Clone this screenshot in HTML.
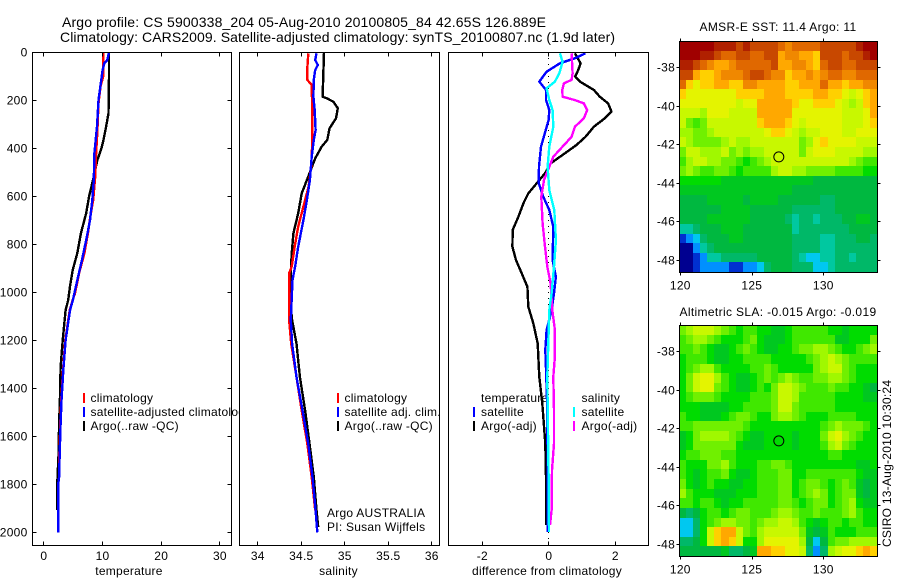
<!DOCTYPE html>
<html lang="en">
<head>
<meta charset="utf-8">
<title>Argo profile chart</title>
<style>
html,body{margin:0;padding:0;background:#fff;}
svg{display:block;}
text{font-family:"Liberation Sans",sans-serif;font-size:12px;fill:#000;letter-spacing:0.25px;}
</style>
</head>
<body>
<svg id="chart" xmlns="http://www.w3.org/2000/svg" width="900" height="580" viewBox="0 0 900 580">
  <text x="62" y="27" style="font-size:14px;letter-spacing:0" textLength="484">Argo profile: CS 5900338_204 05-Aug-2010 20100805_84 42.65S 126.889E</text>
  <text x="60" y="42" style="font-size:14px;letter-spacing:0" textLength="555">Climatology: CARS2009. Satellite-adjusted climatology: synTS_20100807.nc (1.9d later)</text>
</svg>
<script>
// ---------- profile data ----------
const tempTicks = [0, 10, 20, 30];
const salTicks = [34, 34.5, 35, 35.5, 36];
const salTickLabels = ['34', '34.5', '35', '35.5', '36'];
const diffTicks = [-2, 0, 2];
const depthTicks = [0, 200, 400, 600, 800, 1000, 1200, 1400, 1600, 1800, 2000];
const lonTicks = [120, 125, 130];
const latTicks = [-38, -40, -42, -44, -46, -48];

const tempArgoDepth = [0,100,254,310,365,400,450,518,600,670,754,837,907,976,1032,1075,1200,1311,1436,1547,1672,1783,1908];
const tempArgo = [11.2,11.2,11.1,10.7,10.25,9.9,9.2,8.6,7.8,7.3,6.4,5.8,5.0,4.55,4.25,3.8,3.3,2.95,2.85,2.7,2.6,2.4,2.4];
const tempClimDepth = [0,70,100,143,212,337,420,518,615,685,754,837,920,1004,1032,1075,1200,1325,1450,1547,1672,1770,1797,2000];
const tempClim = [10.2,10.2,10.2,9.75,9.4,9.2,9.0,8.85,8.5,8.0,7.6,7.0,6.1,5.4,5.0,4.5,3.75,3.35,3.05,2.9,2.75,2.7,2.55,2.55];
const tempSatDepth = [0,32,46,74,129,199,310,420,532,615,700,782,865,949,1032,1075,1200,1325,1450,1547,1672,1770,1797,2000];
const tempSat = [11.2,10.9,10.4,10.1,9.8,9.4,9.15,8.7,8.6,8.35,7.95,7.3,6.6,5.8,5.05,4.55,3.8,3.4,3.1,2.95,2.8,2.7,2.55,2.55];

const salArgoDepth = [0,185,192,206,233,275,317,365,393,442,504,560,588,671,754,838,921,1060,1115,1214,1353,1492,1630,1770,1908,1978];
const salArgo = [34.767,34.75,34.8,34.875,34.925,34.905,34.83,34.805,34.74,34.665,34.6,34.54,34.51,34.47,34.415,34.395,34.385,34.385,34.4,34.45,34.49,34.55,34.6,34.65,34.68,34.7];
const salClimDepth = [4,67,115,136,213,393,476,560,643,726,810,893,921,1115,1214,1353,1492,1630,1770,1908];
const salClim = [34.586,34.575,34.575,34.625,34.63,34.63,34.62,34.59,34.53,34.47,34.43,34.395,34.365,34.365,34.39,34.45,34.51,34.575,34.625,34.665];
const salSatDepth = [4,32,53,74,115,185,241,324,365,435,532,615,699,810,893,949,1115,1214,1353,1492,1630,1770,1908,2000];
const salSat = [34.68,34.665,34.695,34.665,34.65,34.645,34.66,34.67,34.65,34.625,34.605,34.57,34.53,34.47,34.435,34.405,34.385,34.4,34.45,34.52,34.585,34.635,34.67,34.69];

const diffTempArgoDepth = [4,46,74,101,122,157,185,213,247,275,310,352,386,421,463,504,546,588,629,685,740,810,866,921,977,1060,1129,1213,1352,1463,1630,1769,1970];
const diffTempArgo = [0.8,0.97,0.9,0.81,0.95,1.37,1.55,1.8,1.9,1.7,1.37,1.12,0.85,0.5,0.07,-0.1,-0.35,-0.6,-0.75,-0.9,-1.07,-1.08,-0.97,-0.8,-0.63,-0.6,-0.45,-0.32,-0.27,-0.18,-0.09,-0.07,-0.06];
const diffTempSatDepth = [4,25,46,81,122,157,199,241,282,393,477,546,602,657,727,866,935,1004,1074,1157,1240,1352,1491,1769,1998];
const diffTempSat = [1.12,0.8,0.35,-0.05,-0.27,-0.07,-0.07,0.03,0.01,-0.22,-0.28,-0.29,-0.15,0.03,0.15,0.13,0.23,0.17,0.1,-0.05,-0.09,-0.06,-0.03,-0.02,-0.02];
const diffSalArgoDepth = [4,88,115,129,157,185,199,213,241,275,310,352,393,435,477,532,602,713,810,893,963,1074,1157,1268,1352,1491,1630,1741,1907,1970];
const diffSalArgo = [0.7,0.73,0.7,0.47,0.42,0.43,0.8,1.07,1.17,1.07,0.8,0.7,0.43,0.15,0.03,-0.13,-0.21,-0.17,-0.1,-0.03,0.07,0.12,0.2,0.2,0.15,0.17,0.17,0.11,0.1,0.05];
const diffSalSatDepth = [4,39,88,122,150,199,241,310,393,477,574,657,782,893,1004,1074,1352,1769,1998];
const diffSalSat = [0.35,0.43,0.33,0.2,-0.05,0.03,0.13,0.15,0.03,-0.02,0.03,0.18,0.23,0.17,0.1,0.03,-0.03,0.01,0.02];

// ---------- map data (colour-level per coarse cell) ----------
const sstRows = [
[20,20,20,20,20,19,19,19,18,19,18,18,18,18,17,16,17,17,17,17,18,18,18,18,18,19,20,20],
[20,20,20,19,19,18,17,17,18,18,17,17,18,18,15,16,16,15,15,14,18,18,18,17,18,18,19,20],
[19,19,18,17,16,15,15,16,17,17,17,17,17,18,15,15,16,16,15,14,17,18,18,17,17,18,18,18],
[18,18,15,14,14,15,16,16,16,17,18,18,17,16,16,14,15,15,16,15,16,17,17,16,16,17,17,17],
[17,14,13,14,14,15,15,14,14,16,16,15,15,15,15,14,14,15,15,15,17,15,15,14,15,15,16,16],
[14,13,13,13,13,13,13,13,14,14,14,14,15,15,15,14,14,14,14,15,15,14,14,13,12,13,14,15],
[13,13,13,13,13,13,13,13,12,13,13,15,15,15,15,15,14,13,13,14,14,14,13,12,11,12,14,15],
[12,12,12,11,13,13,13,12,12,12,12,15,15,15,15,15,13,13,13,13,13,13,13,12,12,12,13,15],
[12,10,9,10,12,12,12,12,12,12,12,14,15,15,15,14,13,12,13,13,13,13,13,12,12,12,13,14],
[11,11,10,10,11,12,12,12,12,12,12,12,13,14,14,13,12,11,12,12,13,13,13,12,12,13,13,13],
[12,11,10,10,10,10,11,12,11,11,12,12,12,12,12,12,12,10,11,13,14,13,13,13,13,12,12,12],
[10,12,12,11,11,11,12,10,11,10,11,11,12,12,12,12,12,10,12,13,13,13,12,12,12,12,11,11],
[9,11,12,12,11,11,10,10,9,8,9,10,11,12,12,12,12,12,12,12,12,12,12,12,11,10,9,9],
[10,11,10,9,9,10,10,9,8,9,9,9,9,11,12,12,11,11,10,10,10,10,9,9,9,9,8,8],
[8,8,8,8,8,8,7,7,7,7,7,7,7,7,7,7,7,7,7,6,6,6,6,6,6,6,6,6],
[7,7,7,7,7,7,7,7,7,7,7,7,7,7,7,7,6,6,6,6,6,6,6,6,6,6,6,6],
[6,6,6,6,7,7,7,7,7,6,7,7,7,7,6,6,6,6,6,6,5,5,6,6,6,6,6,6],
[6,6,6,6,6,6,7,7,7,7,6,6,6,6,6,6,5,5,5,5,5,5,6,6,6,6,6,6],
[6,6,6,6,7,7,7,7,7,7,6,6,6,6,6,5,4,5,5,4,5,5,5,6,6,7,7,6],
[4,4,5,6,6,6,7,7,7,6,6,6,6,6,6,6,4,5,5,5,5,5,5,5,6,6,6,6],
[1,2,3,5,6,6,6,7,7,6,6,6,6,6,6,6,5,5,5,5,4,4,5,5,5,6,6,5],
[0,0,2,4,5,6,6,6,6,6,6,6,6,6,6,6,5,5,5,5,4,4,5,5,5,5,5,5],
[0,0,1,2,4,4,5,5,5,5,5,6,6,6,6,6,5,4,3,3,4,4,5,5,4,5,5,5],
[0,0,1,2,2,2,2,1,1,2,2,3,5,6,6,6,5,5,5,3,3,4,5,5,5,5,5,5]
];
const slaRows = [
[10,11,12,12,12,11,10,9,8,9,9,8,8,7,7,8,9,9,9,9,9,8,8,7,8,8,8,8],
[9,10,11,11,10,9,8,8,8,9,10,8,7,7,7,8,9,9,9,9,9,9,7,7,8,8,8,10],
[9,9,10,9,8,7,7,8,9,10,9,8,7,7,8,8,9,10,10,11,11,10,9,8,8,9,10,11],
[8,9,9,9,8,7,7,8,8,9,9,9,9,8,8,8,8,8,9,10,11,12,11,10,9,9,9,9],
[8,9,10,11,11,9,8,8,8,8,9,9,10,9,8,8,8,8,8,10,11,12,12,10,9,8,8,8],
[8,10,12,13,13,11,9,8,7,7,8,9,10,9,10,11,10,9,9,10,10,11,11,10,9,8,8,8],
[8,10,12,13,13,10,9,8,7,7,8,9,8,10,12,12,11,10,9,9,9,10,9,9,8,8,7,6],
[8,9,10,10,10,9,8,8,8,8,9,9,9,10,12,12,11,9,9,9,9,9,8,8,8,8,7,7],
[8,8,8,7,7,7,7,8,8,9,9,9,9,10,12,12,10,9,9,9,9,9,8,8,8,8,8,8],
[9,8,8,7,7,7,8,9,10,10,9,8,8,10,11,11,10,9,8,8,8,9,9,9,9,8,8,8],
[9,9,10,10,10,10,10,10,10,9,8,8,8,8,8,8,8,8,8,8,9,10,11,10,10,10,9,8],
[7,8,10,11,11,11,11,10,9,8,7,7,8,8,8,8,7,8,8,8,10,12,13,11,10,9,8,8],
[7,8,10,10,10,10,10,10,8,7,7,7,8,8,8,8,7,8,8,8,9,11,12,10,9,8,8,8],
[8,9,9,10,10,10,9,9,8,8,8,8,8,8,8,8,8,8,8,8,8,9,9,8,8,8,8,8],
[9,8,8,8,10,10,11,9,8,8,8,9,9,10,10,9,8,8,8,8,8,8,8,8,8,7,7,8],
[9,8,7,8,9,9,10,8,7,7,8,9,9,9,10,10,8,8,9,9,9,9,9,9,9,8,7,7],
[10,8,7,8,9,8,8,7,7,8,8,9,9,9,10,10,8,9,10,10,9,8,9,10,9,7,6,7],
[11,9,8,8,8,7,7,7,8,8,8,9,9,9,10,10,8,9,10,11,10,8,9,10,10,7,6,7],
[9,9,8,9,9,8,7,8,8,9,9,9,9,9,10,10,9,8,9,10,10,8,9,10,11,8,7,7],
[6,5,6,8,9,9,8,9,10,10,9,9,9,10,11,11,10,9,9,10,9,9,9,10,11,9,8,8],
[3,3,5,8,9,10,11,11,10,10,9,10,11,11,12,12,11,9,8,7,8,9,9,8,9,9,8,8],
[3,3,5,8,12,14,15,15,12,10,9,11,12,12,12,12,12,10,7,6,7,9,8,8,8,9,9,9],
[5,5,6,8,12,14,15,14,12,8,8,11,13,13,13,13,13,11,6,3,6,9,10,10,11,11,11,11],
[6,6,6,6,6,6,7,5,5,6,7,15,15,14,14,13,13,12,5,2,5,11,12,13,13,14,15,14]
];
const argoLon = 126.889;
const argoLat = -42.65;

// ---------- drawing ----------
const svg = document.getElementById('chart');
const NS = 'http://www.w3.org/2000/svg';
const levelColours = ['#000090','#0030d0','#0090ff','#00c8f0','#00c8a0','#00b868','#00b840','#00c820','#00dc00','#40e800','#70f000','#a0f800','#c8f800','#e4f400','#ffd000','#ffa800','#f08800','#e06800','#c84800','#b02000','#a00000'];

function make(tag, attrs, parent) {
  const el = document.createElementNS(NS, tag);
  for (const k in attrs) el.setAttribute(k, attrs[k]);
  (parent || svg).appendChild(el);
  return el;
}
function label(str, x, y, anchor, name) {
  const t = make('text', {x: x, y: y, 'text-anchor': anchor || 'start'});
  t.textContent = str;
  
  
  return t;
}
const depthY = p => 52.3 + 0.24 * p;
const tempX = v => 43.3 + 5.87 * v;
const salX = v => 257.3 + 87 * (v - 34);
const diffX = v => 548.3 + 33.25 * v;

function panelBackground(x0, x1, name) {
  const r = make('rect', {x: x0, y: 52, width: x1 - x0, height: 493, fill: '#fff'});
  
  
}
function frame(x0, y0, x1, y1, name) {
  const r = make('rect', {x: x0 + 0.5, y: y0 + 0.5, width: x1 - x0, height: y1 - y0, fill: 'none', stroke: '#000', 'stroke-width': 1, 'shape-rendering': 'crispEdges'});
  
  
}
function tick(x1, y1, x2, y2, name) {
  const l = make('line', {x1: Math.round(x1) + 0.5, y1: Math.round(y1) + 0.5, x2: Math.round(x2) + 0.5, y2: Math.round(y2) + 0.5, stroke: '#000', 'stroke-width': 1, 'shape-rendering': 'crispEdges'});
  
  
}
function series(depths, values, xFn, colour, name) {
  const pts = depths.map((p, i) => xFn(values[i]).toFixed(1) + ',' + depthY(p).toFixed(1)).join(' ');
  const l = make('polyline', {points: pts, fill: 'none', stroke: colour, 'stroke-width': 2.4, 'stroke-linejoin': 'round', 'shape-rendering': 'crispEdges'});
  
  
}
function swatch(x, y, colour, name) {
  const r = make('rect', {x: x, y: y, width: 2, height: 10, fill: colour});
  
  
}
function xAxis(ticks, labels, xFn, x0, x1, title, titleX, prefix) {
  ticks.forEach((t, i) => {
    const x = xFn(t);
    tick(x, 545, x, 541, prefix + '-tick-bottom');
    tick(x, 52, x, 56, prefix + '-tick-top');
    label(labels[i], x + 0.5, 560, 'middle', prefix + '-tick-label');
  });
  label(title, titleX, 575, 'middle', prefix + '-axis-title');
}

// --- panel 1 (temperature)
panelBackground(32, 231, 'temperature-panel');
label('climatology', 90.5, 402, 'start', 'temp-legend-climatology');
label('satellite-adjusted climatology', 90.5, 416, 'start', 'temp-legend-satellite');
label('Argo(..raw -QC)', 90.5, 430, 'start', 'temp-legend-argo');
swatch(83, 393, '#f00', 'temp-legend-swatch-climatology');
swatch(83, 407, '#00f', 'temp-legend-swatch-satellite');
swatch(83, 421, '#000', 'temp-legend-swatch-argo');
series(tempArgoDepth, tempArgo, tempX, '#000', 'temperature-argo-line');
series(tempClimDepth, tempClim, tempX, '#f00', 'temperature-climatology-line');
series(tempSatDepth, tempSat, tempX, '#00f', 'temperature-satellite-line');
frame(32, 52, 231, 545, 'temperature-frame');
xAxis(tempTicks, tempTicks.map(String), tempX, 32, 231, 'temperature', 129, 'temperature');
depthTicks.forEach(d => {
  const y = depthY(d);
  tick(32, y, 36, y, 'depth-tick-left');
  tick(231, y, 227, y, 'depth-tick-right');
  label(String(d), 27.5, Math.round(y) + 4.5, 'end', 'depth-tick-label');
});

// --- panel 2 (salinity)
panelBackground(239, 439, 'salinity-panel');
label('climatology', 344.5, 402, 'start', 'sal-legend-climatology');
label('satellite adj. clim.', 344.5, 416, 'start', 'sal-legend-satellite');
label('Argo(..raw -QC)', 344.5, 430, 'start', 'sal-legend-argo');
swatch(337, 393, '#f00', 'sal-legend-swatch-climatology');
swatch(337, 407, '#00f', 'sal-legend-swatch-satellite');
swatch(337, 421, '#000', 'sal-legend-swatch-argo');
label('Argo AUSTRALIA', 327, 517, 'start', 'argo-australia-note');
label('PI: Susan Wijffels', 327, 531, 'start', 'pi-note');
series(salArgoDepth, salArgo, salX, '#000', 'salinity-argo-line');
series(salClimDepth, salClim, salX, '#f00', 'salinity-climatology-line');
series(salSatDepth, salSat, salX, '#00f', 'salinity-satellite-line');
frame(239, 52, 439, 545, 'salinity-frame');
xAxis(salTicks, salTickLabels, salX, 239, 439, 'salinity', 338.5, 'salinity');

// --- panel 3 (difference)
panelBackground(448, 648, 'difference-panel');
label('temperature', 481, 402, 'start', 'diff-legend-temperature-heading');
label('satellite', 481, 416, 'start', 'diff-legend-temp-satellite');
label('Argo(-adj)', 481, 430, 'start', 'diff-legend-temp-argo');
label('salinity', 581.5, 402, 'start', 'diff-legend-salinity-heading');
label('satellite', 581.5, 416, 'start', 'diff-legend-sal-satellite');
label('Argo(-adj)', 581.5, 430, 'start', 'diff-legend-sal-argo');
swatch(473, 407, '#00f', 'diff-legend-swatch-temp-satellite');
swatch(473, 421, '#000', 'diff-legend-swatch-temp-argo');
swatch(573, 407, '#0ff', 'diff-legend-swatch-sal-satellite');
swatch(573, 421, '#f0f', 'diff-legend-swatch-sal-argo');
const zeroLine = make('line', {x1: diffX(0), y1: 52, x2: diffX(0), y2: 545, stroke: '#000', 'stroke-width': 1, 'stroke-dasharray': '1 5', 'shape-rendering': 'crispEdges'});


series(diffTempArgoDepth, diffTempArgo, diffX, '#000', 'difference-temperature-argo-line');
series(diffTempSatDepth, diffTempSat, diffX, '#00f', 'difference-temperature-satellite-line');
series(diffSalArgoDepth, diffSalArgo, diffX, '#f0f', 'difference-salinity-argo-line');
series(diffSalSatDepth, diffSalSat, diffX, '#0ff', 'difference-salinity-satellite-line');
frame(448, 52, 648, 545, 'difference-frame');
xAxis(diffTicks, diffTicks.map(String), diffX, 448, 648, 'difference from climatology', 547, 'difference');

// --- maps
function drawMap(rows, top, bottom, latZeroY, title, titleY, labelY, prefix) {
  const left = 679, right = 877;
  const lonX = v => 680.3 + (v - 120) * 14.3;
  const latY = v => latZeroY + (-38 - v) * 19.27;
  const cw = (right - left) / rows[0].length;
  const ch = (bottom - top) / rows.length;
  rows.forEach((row, r) => row.forEach((lv, c) => {
    const x0 = Math.round(left + c * cw), x1 = Math.round(left + (c + 1) * cw);
    const y0 = Math.round(top + r * ch), y1 = Math.round(top + (r + 1) * ch);
    const cell = make('rect', {x: x0, y: y0, width: x1 - x0, height: y1 - y0, fill: levelColours[lv], 'shape-rendering': 'crispEdges'});
    
    
  }));
  frame(left, top, right, bottom, prefix + '-frame');
  const heading = label(title, 778, titleY, 'middle', prefix + '-title');
  heading.style.letterSpacing = '0.35px';
  lonTicks.forEach(v => {
    const x = lonX(v);
    tick(x, top, x, top - 3, prefix + '-lon-tick-top');
    tick(x, bottom, x, bottom + 3, prefix + '-lon-tick-bottom');
    label(String(v), x, labelY, 'middle', prefix + '-lon-label');
  });
  latTicks.forEach(v => {
    const y = latY(v);
    tick(left, y, left - 3, y, prefix + '-lat-tick-left');
    tick(right, y, right + 3, y, prefix + '-lat-tick-right');
    label(String(v), 675, Math.round(y) + 4.5, 'end', prefix + '-lat-label');
  });
  const dot = make('circle', {cx: lonX(argoLon), cy: latY(argoLat), r: 5, fill: 'none', stroke: '#000', 'stroke-width': 1});
  
  
}
drawMap(sstRows, 41, 272, 67.3, 'AMSR-E SST: 11.4 Argo: 11', 31, 289.5, 'sst-map');
drawMap(slaRows, 325, 556, 351.3, 'Altimetric SLA: -0.015 Argo: -0.019', 316, 573.5, 'sla-map');

const stamp = make('text', {transform: 'translate(891 547) rotate(-90)'});
stamp.textContent = 'CSIRO 13-Aug-2010 10:30:24';


</script>
</body>
</html>
